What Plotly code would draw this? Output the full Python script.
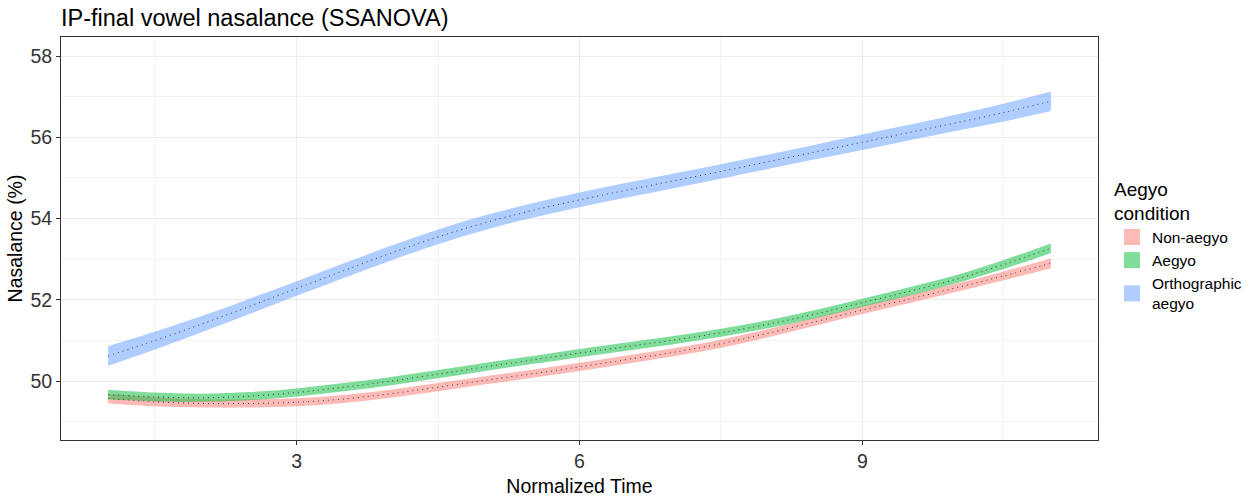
import plotly.graph_objects as go

time = [1, 1.5, 2, 2.5, 3, 3.5, 4, 4.5, 5, 5.5, 6, 6.5, 7, 7.5, 8, 8.5, 9, 9.5, 10, 10.5, 11]
non_aegyo = [49.57, 49.49, 49.45, 49.45, 49.48, 49.56, 49.69, 49.85, 50.02, 50.18, 50.35,
             50.53, 50.71, 50.92, 51.18, 51.46, 51.75, 52.02, 52.30, 52.59, 52.90]
aegyo = [49.67, 49.61, 49.59, 49.63, 49.72, 49.85, 50.00, 50.17, 50.35, 50.52, 50.69,
         50.85, 51.01, 51.19, 51.40, 51.65, 51.93, 52.21, 52.51, 52.87, 53.27]
ortho = [50.62, 51.00, 51.41, 51.84, 52.28, 52.72, 53.15, 53.55, 53.90, 54.20, 54.46,
         54.70, 54.93, 55.16, 55.40, 55.64, 55.88, 56.12, 56.36, 56.61, 56.89]
non_aegyo_se = [0.12, 0.11, 0.10, 0.10, 0.10, 0.10, 0.10, 0.10, 0.10, 0.10, 0.10,
                0.10, 0.10, 0.10, 0.10, 0.10, 0.10, 0.10, 0.10, 0.11, 0.12]
aegyo_se = [0.12, 0.11, 0.10, 0.10, 0.10, 0.10, 0.10, 0.10, 0.10, 0.10, 0.10,
            0.10, 0.10, 0.10, 0.10, 0.10, 0.10, 0.10, 0.10, 0.11, 0.12]
ortho_se = [0.24, 0.22, 0.20, 0.19, 0.18, 0.18, 0.18, 0.18, 0.18, 0.18, 0.18,
            0.18, 0.18, 0.18, 0.18, 0.18, 0.19, 0.19, 0.20, 0.22, 0.24]

series = [
    ("Non-aegyo", non_aegyo, non_aegyo_se, "rgba(248,118,109,0.5)"),
    ("Aegyo", aegyo, aegyo_se, "rgba(0,186,56,0.5)"),
    ("Orthographic<br>aegyo", ortho, ortho_se, "rgba(97,156,255,0.5)"),
]

fig = go.Figure()
for name, vals, se, col in series:
    upper = [v + s for v, s in zip(vals, se)]
    lower = [v - s for v, s in zip(vals, se)]
    fig.add_trace(go.Scatter(x=time, y=lower, mode="lines", showlegend=False,
                             line=dict(width=0, shape="spline"), hoverinfo="skip"))
    fig.add_trace(go.Scatter(x=time, y=upper, mode="lines", showlegend=False,
                             fill="tonexty", fillcolor=col,
                             line=dict(width=0, shape="spline"), hoverinfo="skip"))
for name, vals, se, col in series:
    fig.add_trace(go.Scatter(
        x=time, y=vals, mode="lines", showlegend=False,
        line=dict(color="rgba(30,30,30,0.85)", width=1, dash="1px,4px", shape="spline")))
for name, vals, se, col in series:
    fig.add_trace(go.Scatter(x=[None], y=[None], mode="markers", name=name,
                             marker=dict(symbol="square", size=16, color=col)))

axis_common = dict(
    showline=True, mirror=True, linecolor="#333333", linewidth=1,
    ticks="outside", ticklen=4, tickcolor="#333333",
    gridcolor="#EBEBEB", gridwidth=1, zeroline=False, automargin=False,
    tickfont=dict(size=19.5, color="#333333"),
)
fig.update_xaxes(range=[0.5, 11.5], tickvals=[3, 6, 9],
                 title=dict(text="Normalized Time", font=dict(size=19.5, color="black"), standoff=8),
                 minor=dict(tickvals=[1.5, 4.5, 7.5, 10.5], showgrid=True, gridcolor="#F2F2F2", gridwidth=1, ticks=""),
                 **axis_common)
fig.update_yaxes(range=[48.55, 58.47], tickvals=[50, 52, 54, 56, 58],
                 title=dict(text="Nasalance (%)", font=dict(size=19.5, color="black"), standoff=2),
                 minor=dict(tickvals=[49, 51, 53, 55, 57], showgrid=True, gridcolor="#F2F2F2", gridwidth=1, ticks=""),
                 **axis_common)

fig.update_layout(
    width=1250, height=497,
    margin=dict(l=61, r=152, t=37, b=57),
    plot_bgcolor="white", paper_bgcolor="white",
    font=dict(family="Liberation Sans, Arial", color="black"),
    title=dict(text="IP-final vowel nasalance (SSANOVA)", x=0, xref="paper", xanchor="left",
               y=0.964, yref="container", yanchor="middle", font=dict(size=23.5)),
    legend=dict(title=dict(text="Aegyo<br>condition", font=dict(size=19)),
                x=1112 / 1250, xref="container", xanchor="left",
                y=1 - 171 / 497, yref="container", yanchor="top",
                font=dict(size=15.5), tracegroupgap=0, traceorder="normal"),
)

fig.write_html("out.html", config={"displayModeBar": False},
               post_script="document.body.style.margin='0';document.body.style.overflow='hidden';")
